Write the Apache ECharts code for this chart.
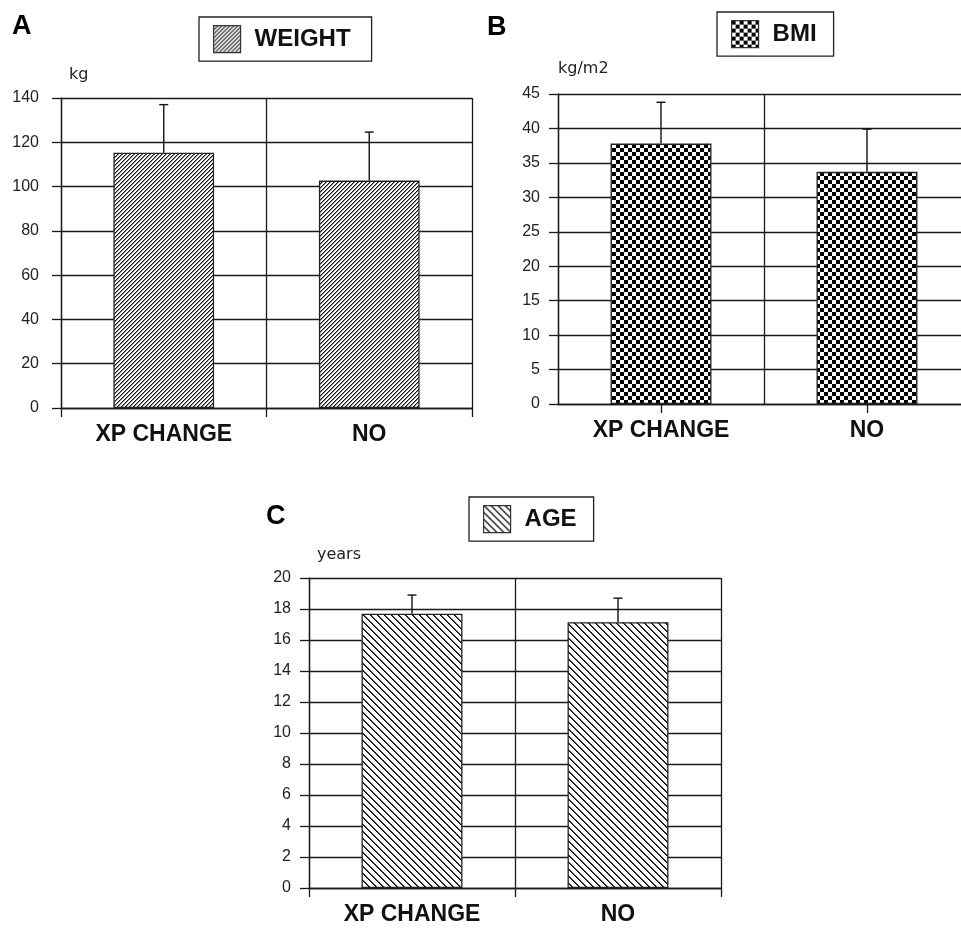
<!DOCTYPE html>
<html>
<head>
<meta charset="utf-8">
<script src="https://cdn.jsdelivr.net/npm/echarts@6/dist/echarts.min.js"></script>
<style>
html,body{margin:0;padding:0;background:#fff;}
#c{width:961px;height:929px;}
</style>
</head>
<body>
<div id="c"></div>
<script>
// ---- data ----
const categories = ['XP CHANGE', 'NO'];
const weightMean = [115.3, 102.7];
const weightSD = [21.7, 21.9];
const bmiMean = [37.8, 33.7];
const bmiSD = [6.0, 6.2];
const ageMean = [17.7, 17.15];
const ageSD = [1.2, 1.55];
const weightTicks = {min: 0, max: 140, interval: 20};
const bmiTicks = {min: 0, max: 45, interval: 5};
const ageTicks = {min: 0, max: 20, interval: 2};

// ---- patterns ----
function makePattern(size, fn) {
  const c = document.createElement('canvas');
  c.width = size; c.height = size;
  const ctx = c.getContext('2d');
  ctx.fillStyle = '#fff';
  ctx.fillRect(0, 0, size, size);
  for (let y = 0; y < size; y++) {
    for (let x = 0; x < size; x++) {
      const v = fn(x, y);
      if (v) { ctx.fillStyle = v; ctx.fillRect(x, y, 1, 1); }
    }
  }
  return {image: c, repeat: 'repeat'};
}
const patA = makePattern(4, (x, y) => {
  const k = (x + y) % 4;
  return k === 3 ? '#111' : (k === 0 ? '#8a8a8a' : null);
});
const patB = makePattern(8, (x, y) => (((x >> 2) + (y >> 2)) % 2 === 0 ? '#000' : null));
const patC = makePattern(7, (x, y) => {
  const k = (x - y + 14) % 7;
  return k === 0 ? '#000' : (k === 1 ? '#444' : null);
});

const LINE = '#1a1a1a';
const FONT = '"Liberation Sans", Arial, sans-serif';

const grids = [
  {left: 61, top: 98, width: 411, height: 310, outerBoundsMode: 'none', containLabel: false},
  {left: 558, top: 94, width: 412, height: 310, outerBoundsMode: 'none', containLabel: false},
  {left: 309, top: 578, width: 412, height: 310, outerBoundsMode: 'none', containLabel: false}
];

function xAxis(idx, alignWithLabel) {
  return {
    type: 'category', gridIndex: idx, data: categories,
    boundaryGap: true,
    axisLine: {show: true, lineStyle: {color: LINE, width: 1.3}},
    axisTick: {show: true, length: 9, alignWithLabel: alignWithLabel, lineStyle: {color: LINE, width: 1.3}},
    splitLine: {show: true, lineStyle: {color: LINE, width: 1.3}},
    axisLabel: {fontSize: 23, fontWeight: 'bold', color: '#111', margin: 15, fontFamily: FONT}
  };
}
function yAxis(idx, t, name, labelMargin, namePad, nameGap) {
  return {
    type: 'value', gridIndex: idx, min: t.min, max: t.max, interval: t.interval,
    name: name, nameLocation: 'end', nameGap: nameGap,
    nameTextStyle: {fontSize: 16, color: '#222', fontFamily: '"DejaVu Sans", sans-serif', align: 'left', verticalAlign: 'bottom', padding: [0, 0, 0, namePad]},
    axisLine: {show: true, lineStyle: {color: LINE, width: 1.3}},
    axisTick: {show: true, length: 9, lineStyle: {color: LINE, width: 1.3}},
    splitLine: {show: true, lineStyle: {color: LINE, width: 1.3}},
    axisLabel: {fontSize: 16, color: '#222', margin: labelMargin, fontFamily: FONT}
  };
}
function barSeries(name, idx, data, pat) {
  return {
    name: name, type: 'bar', xAxisIndex: idx, yAxisIndex: idx, data: data,
    barWidth: '49%',
    itemStyle: {color: pat, borderColor: '#222', borderWidth: 1.3},
    emphasis: {disabled: true}, z: 2
  };
}
function errSeries(idx, mean, sd) {
  return {
    type: 'custom', xAxisIndex: idx, yAxisIndex: idx, z: 5,
    data: categories.map((c, i) => [i, mean[i], sd[i]]),
    encode: {x: 0, y: 1},
    renderItem: function (params, api) {
      const i = api.value(0), m = api.value(1), s = api.value(2);
      const p0 = api.coord([i, m]);
      const p1 = api.coord([i, m + s]);
      const st = {stroke: '#111', lineWidth: 1.4};
      return {type: 'group', children: [
        {type: 'line', shape: {x1: p0[0], y1: p0[1], x2: p1[0], y2: p1[1]}, style: st},
        {type: 'line', shape: {x1: p1[0] - 4.5, y1: p1[1], x2: p1[0] + 4.5, y2: p1[1]}, style: st}
      ]};
    }
  };
}
function legend(name, left, top, padRight) {
  return {
    data: [name], left: left, top: top, orient: 'horizontal',
    selectedMode: false, icon: 'rect', itemWidth: 27, itemHeight: 27,
    padding: [8, padRight, 8, 14],
    borderColor: '#222', borderWidth: 1.3, backgroundColor: '#fff',
    itemStyle: {borderColor: '#333', borderWidth: 1.2},
    textStyle: {fontSize: 24, fontWeight: 'bold', color: '#111', fontFamily: FONT, padding: [0, 0, 0, 9]}
  };
}

const chart = echarts.init(document.getElementById('c'), null, {renderer: 'canvas'});
chart.setOption({
  animation: false,
  backgroundColor: '#fff',
  grid: grids,
  xAxis: [xAxis(0, false), xAxis(1, true), xAxis(2, false)],
  yAxis: [
    yAxis(0, weightTicks, 'kg', 22, 8, 15),
    yAxis(1, bmiTicks, 'kg/m2', 18, 0, 17),
    yAxis(2, ageTicks, 'years', 18, 8, 15)
  ],
  legend: [
    legend('WEIGHT', 199, 17, 21),
    legend('BMI', 717, 12, 17),
    legend('AGE', 469, 497, 17)
  ],
  graphic: [
    {type: 'text', left: 12, top: 13, style: {text: 'A', fontSize: 27, fontWeight: 'bold', fill: '#000', fontFamily: FONT}},
    {type: 'text', left: 487, top: 14, style: {text: 'B', fontSize: 27, fontWeight: 'bold', fill: '#000', fontFamily: FONT}},
    {type: 'text', left: 266, top: 503, style: {text: 'C', fontSize: 27, fontWeight: 'bold', fill: '#000', fontFamily: FONT}}
  ],
  series: [
    barSeries('WEIGHT', 0, weightMean, patA),
    errSeries(0, weightMean, weightSD),
    barSeries('BMI', 1, bmiMean, patB),
    errSeries(1, bmiMean, bmiSD),
    barSeries('AGE', 2, ageMean, patC),
    errSeries(2, ageMean, ageSD)
  ]
});
</script>
</body>
</html>
